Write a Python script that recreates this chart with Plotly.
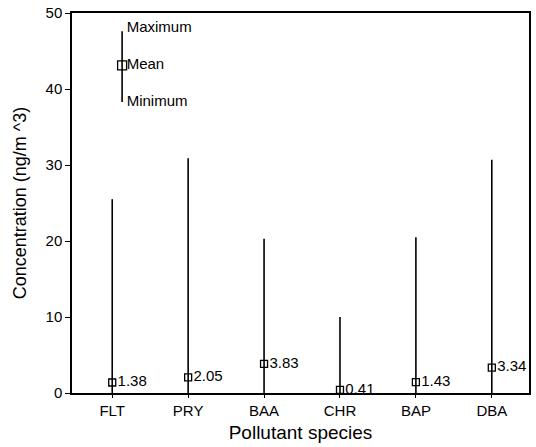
import plotly.graph_objects as go

species = ["FLT", "PRY", "BAA", "CHR", "BAP", "DBA"]
mean_vals = [1.38, 2.05, 3.83, 0.41, 1.43, 3.34]
max_vals = [25.5, 30.9, 20.3, 10.0, 20.5, 30.7]
min_vals = [0.0, 0.0, 0.0, 0.0, 0.0, 0.0]

legend_x = 0.13
legend_text_x = 0.19
legend_max = 47.6
legend_mean = 43.1
legend_min = 38.3
legend_labels = ["Maximum", "Mean", "Minimum"]

xs = list(range(len(species)))
FONT = "Liberation Sans, Arial, Helvetica"

fig = go.Figure()

# range lines
lx, ly = [], []
for i in xs:
    lx += [i, i, None]
    ly += [min_vals[i], max_vals[i], None]
fig.add_trace(go.Scatter(x=lx, y=ly, mode="lines",
                         line=dict(color="black", width=1.6),
                         hoverinfo="skip", showlegend=False))

# means
fig.add_trace(go.Scatter(x=xs, y=mean_vals, mode="markers+text",
                         marker=dict(symbol="square-open", size=7, color="black",
                                     line=dict(width=1.3)),
                         text=[f"{v:.2f}" for v in mean_vals],
                         textposition="middle right",
                         textfont=dict(family=FONT, size=15, color="black"),
                         cliponaxis=False, showlegend=False))

# key (legend drawn inside plot)
fig.add_trace(go.Scatter(x=[legend_x, legend_x], y=[legend_min, legend_max], mode="lines",
                         line=dict(color="black", width=1.6), showlegend=False, hoverinfo="skip"))
fig.add_trace(go.Scatter(x=[legend_x], y=[legend_mean], mode="markers",
                         marker=dict(symbol="square-open", size=9, color="black",
                                     line=dict(width=1.3)), showlegend=False))
fig.add_trace(go.Scatter(x=[legend_text_x, legend_text_x, legend_text_x],
                         y=[legend_max + 0.4, legend_mean, legend_min],
                         mode="text", text=legend_labels,
                         textposition="middle right",
                         textfont=dict(family=FONT, size=15, color="black"),
                         showlegend=False))

fig.update_layout(
    template="none",
    width=536, height=447,
    margin=dict(l=72, r=7, t=13, b=54),
    paper_bgcolor="white", plot_bgcolor="white",
    font=dict(family=FONT, size=15, color="black"),
    xaxis=dict(range=[-0.53, 5.49], tickvals=xs, ticktext=species, automargin=False,
               showgrid=False, zeroline=False, showline=True, linecolor="black",
               linewidth=1.5, mirror=True, ticks="outside", ticklen=3,
               tickcolor="black", tickfont=dict(size=15),
               title=dict(text="Pollutant species", font=dict(size=19), standoff=8)),
    yaxis=dict(range=[0, 50], tickvals=[0, 10, 20, 30, 40, 50], automargin=False,
               showgrid=False, zeroline=False, showline=True, linecolor="black",
               linewidth=1.5, mirror=True, ticks="outside", ticklen=5,
               tickcolor="black", tickfont=dict(size=15),
               title=dict(text="Concentration (ng/m ^3)", font=dict(size=18), standoff=14)),
)

fig.write_html("out.html", config={"displayModeBar": False},
               post_script="document.body.style.margin='0';document.body.style.overflow='hidden';")
